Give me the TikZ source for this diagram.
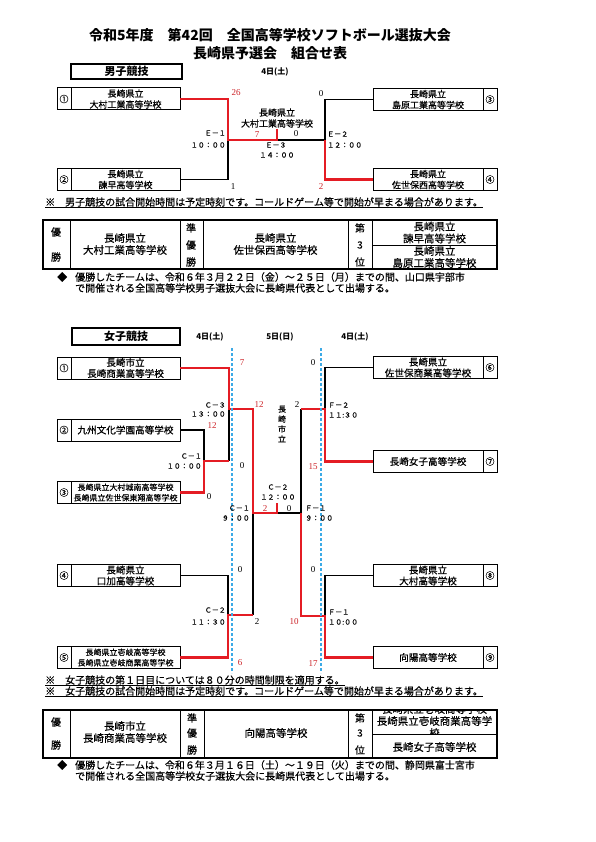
\documentclass[tikz,border=0pt]{standalone}
\usepackage{fontspec}
\setmainfont{Noto Sans CJK JP}[UprightFeatures={FakeBold=0.5}]
\newfontfamily\serifnum{Liberation Serif}
\usetikzlibrary{calc}
\definecolor{wred}{RGB}{228,28,36}
\definecolor{sred}{RGB}{205,35,40}
\definecolor{dblue}{RGB}{60,170,230}
\tikzset{
  tbox/.style={draw, line width=1pt, minimum height=22pt, inner sep=0pt, outer sep=0pt},
  win/.style={draw=wred, line width=2.3pt},
  lose/.style={draw=black, line width=1.1pt},
  ttxt/.style={font=\fontsize{9}{11}\selectfont, align=center, inner sep=0pt},
  gtxt/.style={font=\fontsize{9.6}{11}\selectfont, align=center, inner sep=0pt},
  stxt/.style={font=\fontsize{8}{10.5}\selectfont, align=center, inner sep=0pt},
  numc/.style={font=\fontsize{9}{9}\selectfont, inner sep=0pt},
  score/.style={font=\serifnum\fontsize{9}{9}\selectfont, inner sep=0pt},
  rscore/.style={score, text=sred},
  mlab/.style={font=\fontsize{7}{8}\selectfont, inner sep=0pt},
  notetxt/.style={font=\fontsize{10}{12}\selectfont, inner sep=0pt, anchor=west},
  daylab/.style={font=\bfseries\fontsize{8}{9}\selectfont, inner sep=0pt},
  catbox/.style={draw, line width=1.8pt, inner sep=0pt, font=\bfseries\fontsize{11}{12}\selectfont},
  tabtxt/.style={font=\fontsize{10.5}{12}\selectfont, align=center, inner sep=0pt},
  tablab/.style={font=\fontsize{10}{12}\selectfont, inner sep=0pt},
  bluedash/.style={draw=dblue, line width=1.3pt, dash pattern=on 3pt off 2pt},
  tabline/.style={line width=0.9pt},
}
\newcommand{\Lteam}[5]{%
  \node[tbox, minimum width=123pt] (#1) at (118.5,#2) {};
  \draw[line width=0.9pt] ($(#1.north west)+(14,0)$) -- ($(#1.south west)+(14,0)$);
  \node[numc] (#1n) at (64,#2) {#3};
  \node[#4] (#1t) at (125.5,#2) {#5};
}
\newcommand{\Rteam}[5]{%
  \node[tbox, minimum width=124pt] (#1) at (435,#2) {};
  \draw[line width=0.9pt] ($(#1.north east)+(-14,0)$) -- ($(#1.south east)+(-14,0)$);
  \node[numc] (#1n) at (490,#2) {#3};
  \node[#4] (#1t) at (428,#2) {#5};
}
\begin{document}
\begin{tikzpicture}[x=1pt,y=-1pt]
\useasboundingbox (0,0) rectangle (595,842);
\fill[white] (0,0) rectangle (595,842);

% ---------- title ----------
\node[font=\bfseries\fontsize{14}{16}\selectfont, inner sep=0pt] (t1) at (270,35) {令和5年度　第42回　全国高等学校ソフトボール選抜大会};
\node[font=\bfseries\fontsize{14}{16}\selectfont, inner sep=0pt] (t2) at (270,53) {長崎県予選会　組合せ表};

% ---------- boys ----------
\node[catbox, minimum width=111pt, minimum height=15pt] (mcat) at (126.5,71.5) {男子競技};
\node[daylab] (md) at (275,72) {4日(土)};

\Lteam{b1}{99}{①}{ttxt}{長崎県立\\大村工業高等学校}
\Lteam{b2}{179.5}{②}{ttxt}{長崎県立\\諫早高等学校}
\Rteam{b3}{99.5}{③}{ttxt}{長崎県立\\島原工業高等学校}
\Rteam{b4}{179.5}{④}{ttxt}{長崎県立\\佐世保西高等学校}

\coordinate (e1) at (228,140);
\coordinate (e3) at (277,140);
\coordinate (e3t) at (277,129);
\coordinate (e2) at (325,140);
\draw[lose] (b2.east) -| (e1);
\draw[lose] (e3) -- (e2);
\draw[lose] (b3.west) -| (e2);
\draw[win] (b1.east) -| (e1) -- (e3) -- (e3t);
\draw[win] (b4.west) -| (e2);

\node[rscore] (s26) at (236,93) {26};
\node[score] (s1) at (233,187) {1};
\node[mlab, anchor=east] (le1) at (226,133) {Ｅ－１};
\node[mlab, anchor=east] (le1t) at (226,145) {１０：００};
\node[rscore] (s7) at (257,135) {7};
\node[score] (s0a) at (296,134) {0};
\node[ttxt] (mwin) at (277,118) {長崎県立\\大村工業高等学校};
\node[mlab] (le3) at (276,145) {Ｅ－３};
\node[mlab] (le3t) at (277,155) {１４：００};
\node[score] (s0b) at (321,94) {0};
\node[mlab, anchor=west] (le2) at (327,134) {Ｅ－２};
\node[mlab, anchor=west] (le2t) at (327,145) {１２：００};
\node[rscore] (s2) at (321,187) {2};

\node[notetxt] (mnote) at (45,202) {※　男子競技の試合開始時間は予定時刻です。コールドゲーム等で開始が早まる場合があります。};
\draw[line width=0.6pt] (mnote.south west) -- (mnote.south east);

% boys result table
\draw[line width=1.1pt] (43,220) rectangle (497,269);
\foreach \x in {70,180,203,348,372} \draw[tabline] (\x,220) -- (\x,269);
\draw[tabline] (372,245) -- (497,245);
\node[tablab] (my1) at (56,232) {優};
\node[tablab] (my2) at (56,257) {勝};
\node[tabtxt] (mw) at (125,244) {長崎県立\\大村工業高等学校};
\node[tablab] (mj1) at (191,228) {準};
\node[tablab] (mj2) at (191,245) {優};
\node[tablab] (mj3) at (191,262) {勝};
\node[tabtxt] (mr) at (275.5,244) {長崎県立\\佐世保西高等学校};
\node[tablab] (md1) at (360,228) {第};
\node[tablab] (md2) at (360,245) {3};
\node[tablab] (md3) at (360,262) {位};
\node[tabtxt] (m3a) at (434.5,232.5) {長崎県立\\諫早高等学校};
\node[tabtxt] (m3b) at (434.5,257) {長崎県立\\島原工業高等学校};

\node[notetxt] (mdia) at (57,277) {◆};
\node[notetxt] (minfo1) at (75,277) {優勝したチームは、令和６年３月２２日（金）～２５日（月）までの間、山口県宇部市};
\node[notetxt] (minfo2) at (75,288) {で開催される全国高等学校男子選抜大会に長崎県代表として出場する。};

% ---------- girls ----------
\node[catbox, minimum width=108pt, minimum height=17pt] (wcat) at (126,336.5) {女子競技};
\node[daylab] (wd1) at (210,337) {4日(土)};
\node[daylab] (wd2) at (280,337) {5日(日)};
\node[daylab] (wd3) at (355,337) {4日(土)};

\Lteam{g1}{368}{①}{gtxt}{長崎市立\\長崎商業高等学校}
\Lteam{g2}{430}{②}{gtxt}{九州文化学園高等学校}
\Lteam{g3}{492.5}{③}{stxt}{長崎県立大村城南高等学校\\長崎県立佐世保東翔高等学校}
\Lteam{g4}{575.5}{④}{gtxt}{長崎県立\\口加高等学校}
\Lteam{g5}{657.5}{⑤}{stxt}{長崎県立壱岐高等学校\\長崎県立壱岐商業高等学校}
\Rteam{g6}{367.5}{⑥}{gtxt}{長崎県立\\佐世保商業高等学校}
\Rteam{g7}{461.5}{⑦}{gtxt}{長崎女子高等学校}
\Rteam{g8}{575.5}{⑧}{gtxt}{長崎県立\\大村高等学校}
\Rteam{g9}{657.5}{⑨}{gtxt}{向陽高等学校}

\coordinate (c1a) at (204,461);
\coordinate (c1r) at (229,461);
\coordinate (c3) at (229,409);
\coordinate (c3r) at (253,409);
\coordinate (c2a) at (228,615);
\coordinate (c2r) at (253,615);
\coordinate (sf1) at (253,513);
\coordinate (fin) at (277,513);
\coordinate (fint) at (277,503);
\coordinate (sf2) at (301,513);
\coordinate (f2l) at (301,409);
\coordinate (f2) at (325,409);
\coordinate (f1) at (325,616);
\coordinate (f1l) at (301,616);

\draw[lose] (g2.east) -| (c1a);
\draw[lose] (c1r) -- (c3);
\draw[lose] (g4.east) -| (c2a);
\draw[lose] (c2r) -- (sf1);
\draw[lose] (fin) -- (sf2) -- (f2l);
\draw[lose] (g6.west) -| (f2);
\draw[lose] (g8.west) -| (f1);
\draw[win] (g1.east) -| (c3) -- (c3r) -- (sf1) -- (fin) -- (fint);
\draw[win] (g3.east) -| (c1a) -- (c1r);
\draw[win] (g5.east) -| (c2a) -- (c2r);
\draw[win] (g7.west) -| (f2) -- (f2l);
\draw[win] (g9.west) -| (f1) -- (f1l) -- (sf2);

\coordinate (bl1) at (232,348);
\coordinate (bl2) at (232,673);
\coordinate (br1) at (321,348);
\coordinate (br2) at (321,673);
\draw[bluedash] (bl1) -- (bl2);
\draw[bluedash] (br1) -- (br2);

% girls scores and labels
\node[rscore] (w7) at (242,363) {7};
\node[mlab, anchor=east] (lc3) at (226,405) {Ｃ－３};
\node[mlab, anchor=east] (lc3t) at (226,414) {１３：００};
\node[rscore] (w12a) at (259,405) {12};
\node[font=\fontsize{8}{10}\selectfont, align=center, inner sep=0pt] (wwin) at (282,424) {長\\崎\\市\\立};
\node[score] (w2a) at (297,405) {2};
\node[score] (w0a) at (313,363) {0};
\node[mlab, anchor=west] (lf2) at (328,405) {Ｆ－２};
\node[mlab, anchor=west] (lf2t) at (328,415) {１１:３０};
\node[rscore] (w12b) at (212,426) {12};
\node[mlab, anchor=east] (lc1) at (202,456) {Ｃ－１};
\node[mlab, anchor=east] (lc1t) at (202,466) {１０：００};
\node[score] (w0b) at (242,466) {0};
\node[score] (w0c) at (209,497) {0};
\node[rscore] (w15) at (313,467) {15};
\node[mlab] (lfin) at (278,487) {Ｃ－２};
\node[mlab] (lfint) at (278,497) {１２：００};
\node[rscore] (w2b) at (265,509) {2};
\node[score] (w0d) at (289,509) {0};
\node[mlab, anchor=east] (ls1) at (250,508) {Ｃ－１};
\node[mlab, anchor=east] (ls1t) at (250,518) {９：００};
\node[mlab, anchor=west] (ls2) at (305,508) {Ｆ－１};
\node[mlab, anchor=west] (ls2t) at (305,518) {９：００};
\node[score] (w0e) at (240,570) {0};
\node[score] (w0f) at (313,570) {0};
\node[mlab, anchor=east] (lc2) at (226,610) {Ｃ－２};
\node[mlab, anchor=east] (lc2t) at (226,622) {１１：３０};
\node[score] (w2c) at (257,622) {2};
\node[rscore] (w10) at (294,622) {10};
\node[mlab, anchor=west] (lf1) at (328,612) {Ｆ－１};
\node[mlab, anchor=west] (lf1t) at (328,622) {１０:００};
\node[rscore] (w6) at (240,663) {6};
\node[rscore] (w17) at (313,664) {17};

\node[notetxt] (wnote1) at (45,680) {※　女子競技の第１日目については８０分の時間制限を適用する。};
\draw[line width=0.6pt] (wnote1.south west) -- (wnote1.south east);
\node[notetxt] (wnote2) at (45,691) {※　女子競技の試合開始時間は予定時刻です。コールドゲーム等で開始が早まる場合があります。};
\draw[line width=0.6pt] (wnote2.south west) -- (wnote2.south east);

% girls result table
\draw[line width=1.1pt] (43,710) rectangle (497,758);
\foreach \x in {70,180,204,348,372} \draw[tabline] (\x,710) -- (\x,758);
\draw[tabline] (372,734) -- (497,734);
\node[tablab] (wy1) at (56,722) {優};
\node[tablab] (wy2) at (56,745) {勝};
\node[tabtxt] (ww) at (125,732) {長崎市立\\長崎商業高等学校};
\node[tablab] (wj1) at (192,718) {準};
\node[tablab] (wj2) at (192,733) {優};
\node[tablab] (wj3) at (192,750) {勝};
\node[tabtxt] (wr) at (276,733) {向陽高等学校};
\node[tablab] (wd31) at (360,718) {第};
\node[tablab] (wd32) at (360,733) {3};
\node[tablab] (wd33) at (360,750) {位};
\begin{scope}
\clip (372.5,710.5) rectangle (496.5,733.5);
\node[tabtxt] (w3a) at (434.5,721) {長崎県立壱岐高等学校\\長崎県立壱岐商業高等学\\校};
\end{scope}
\node[tabtxt] (w3b) at (434.5,747) {長崎女子高等学校};

\node[notetxt] (wdia) at (57,765) {◆};
\node[notetxt] (winfo1) at (75,765) {優勝したチームは、令和６年３月１６日（土）～１９日（火）までの間、静岡県富士宮市};
\node[notetxt] (winfo2) at (75,776) {で開催される全国高等学校女子選抜大会に長崎県代表として出場する。};
\end{tikzpicture}
\end{document}
